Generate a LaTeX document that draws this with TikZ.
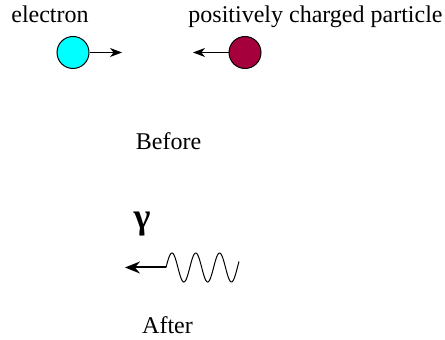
\documentclass[tikz,border=0pt]{standalone}
\usepackage{fontspec}
\newfontfamily\tms[Extension=.ttf,UprightFont=*-Regular,BoldFont=*-Bold]{LiberationSerif}
\usetikzlibrary{arrows.meta}
\definecolor{elec}{RGB}{0,255,255}
\definecolor{posi}{RGB}{165,0,60}
\begin{document}
\begin{tikzpicture}[x=0.5pt,y=-0.5pt,
  lbl/.style={anchor=base,inner sep=0pt,font=\tms\fontsize{12}{14}\selectfont},
  particle/.style={circle,draw=black,line width=0.5pt,minimum size=16pt,inner sep=0pt},
  motion/.style={line width=0.5pt,-{Stealth[length=6pt,width=4.5pt,inset=1.8pt]}},
  photon/.style={line width=1pt,-{Stealth[length=7.5pt,width=6pt,inset=2.5pt]}}]
\useasboundingbox (0,0) rectangle (445,340);
\node[lbl] (el) at (50,23) {electron};
\node[lbl] (pc) at (315.5,23) {positively charged particle};
\node[particle,fill=elec] (e) at (73,52.5) {};
\node[particle,fill=posi] (p) at (245,52.5) {};
\coordinate (et) at (122,52.5);
\coordinate (pt) at (193,52.5);
\draw[motion] (e.east) -- (et);
\draw[motion] (p.west) -- (pt);
\node[lbl] (before) at (168.5,150) {Before};
\node[anchor=base,inner sep=0pt,font=\tms\fontsize{18}{20}\selectfont\bfseries] (g) at (142,229) {γ};
\coordinate (ws) at (166,267.5);
\coordinate (wt) at (125,267.5);
\draw[line width=0.5pt] plot[domain=166:239,samples=120,smooth] (\x,{267.5-14.5*sin(15.126*(\x-166))});
\draw[photon] (ws) -- (wt);
\node[lbl] (after) at (167.5,334) {After};
\end{tikzpicture}
\end{document}
